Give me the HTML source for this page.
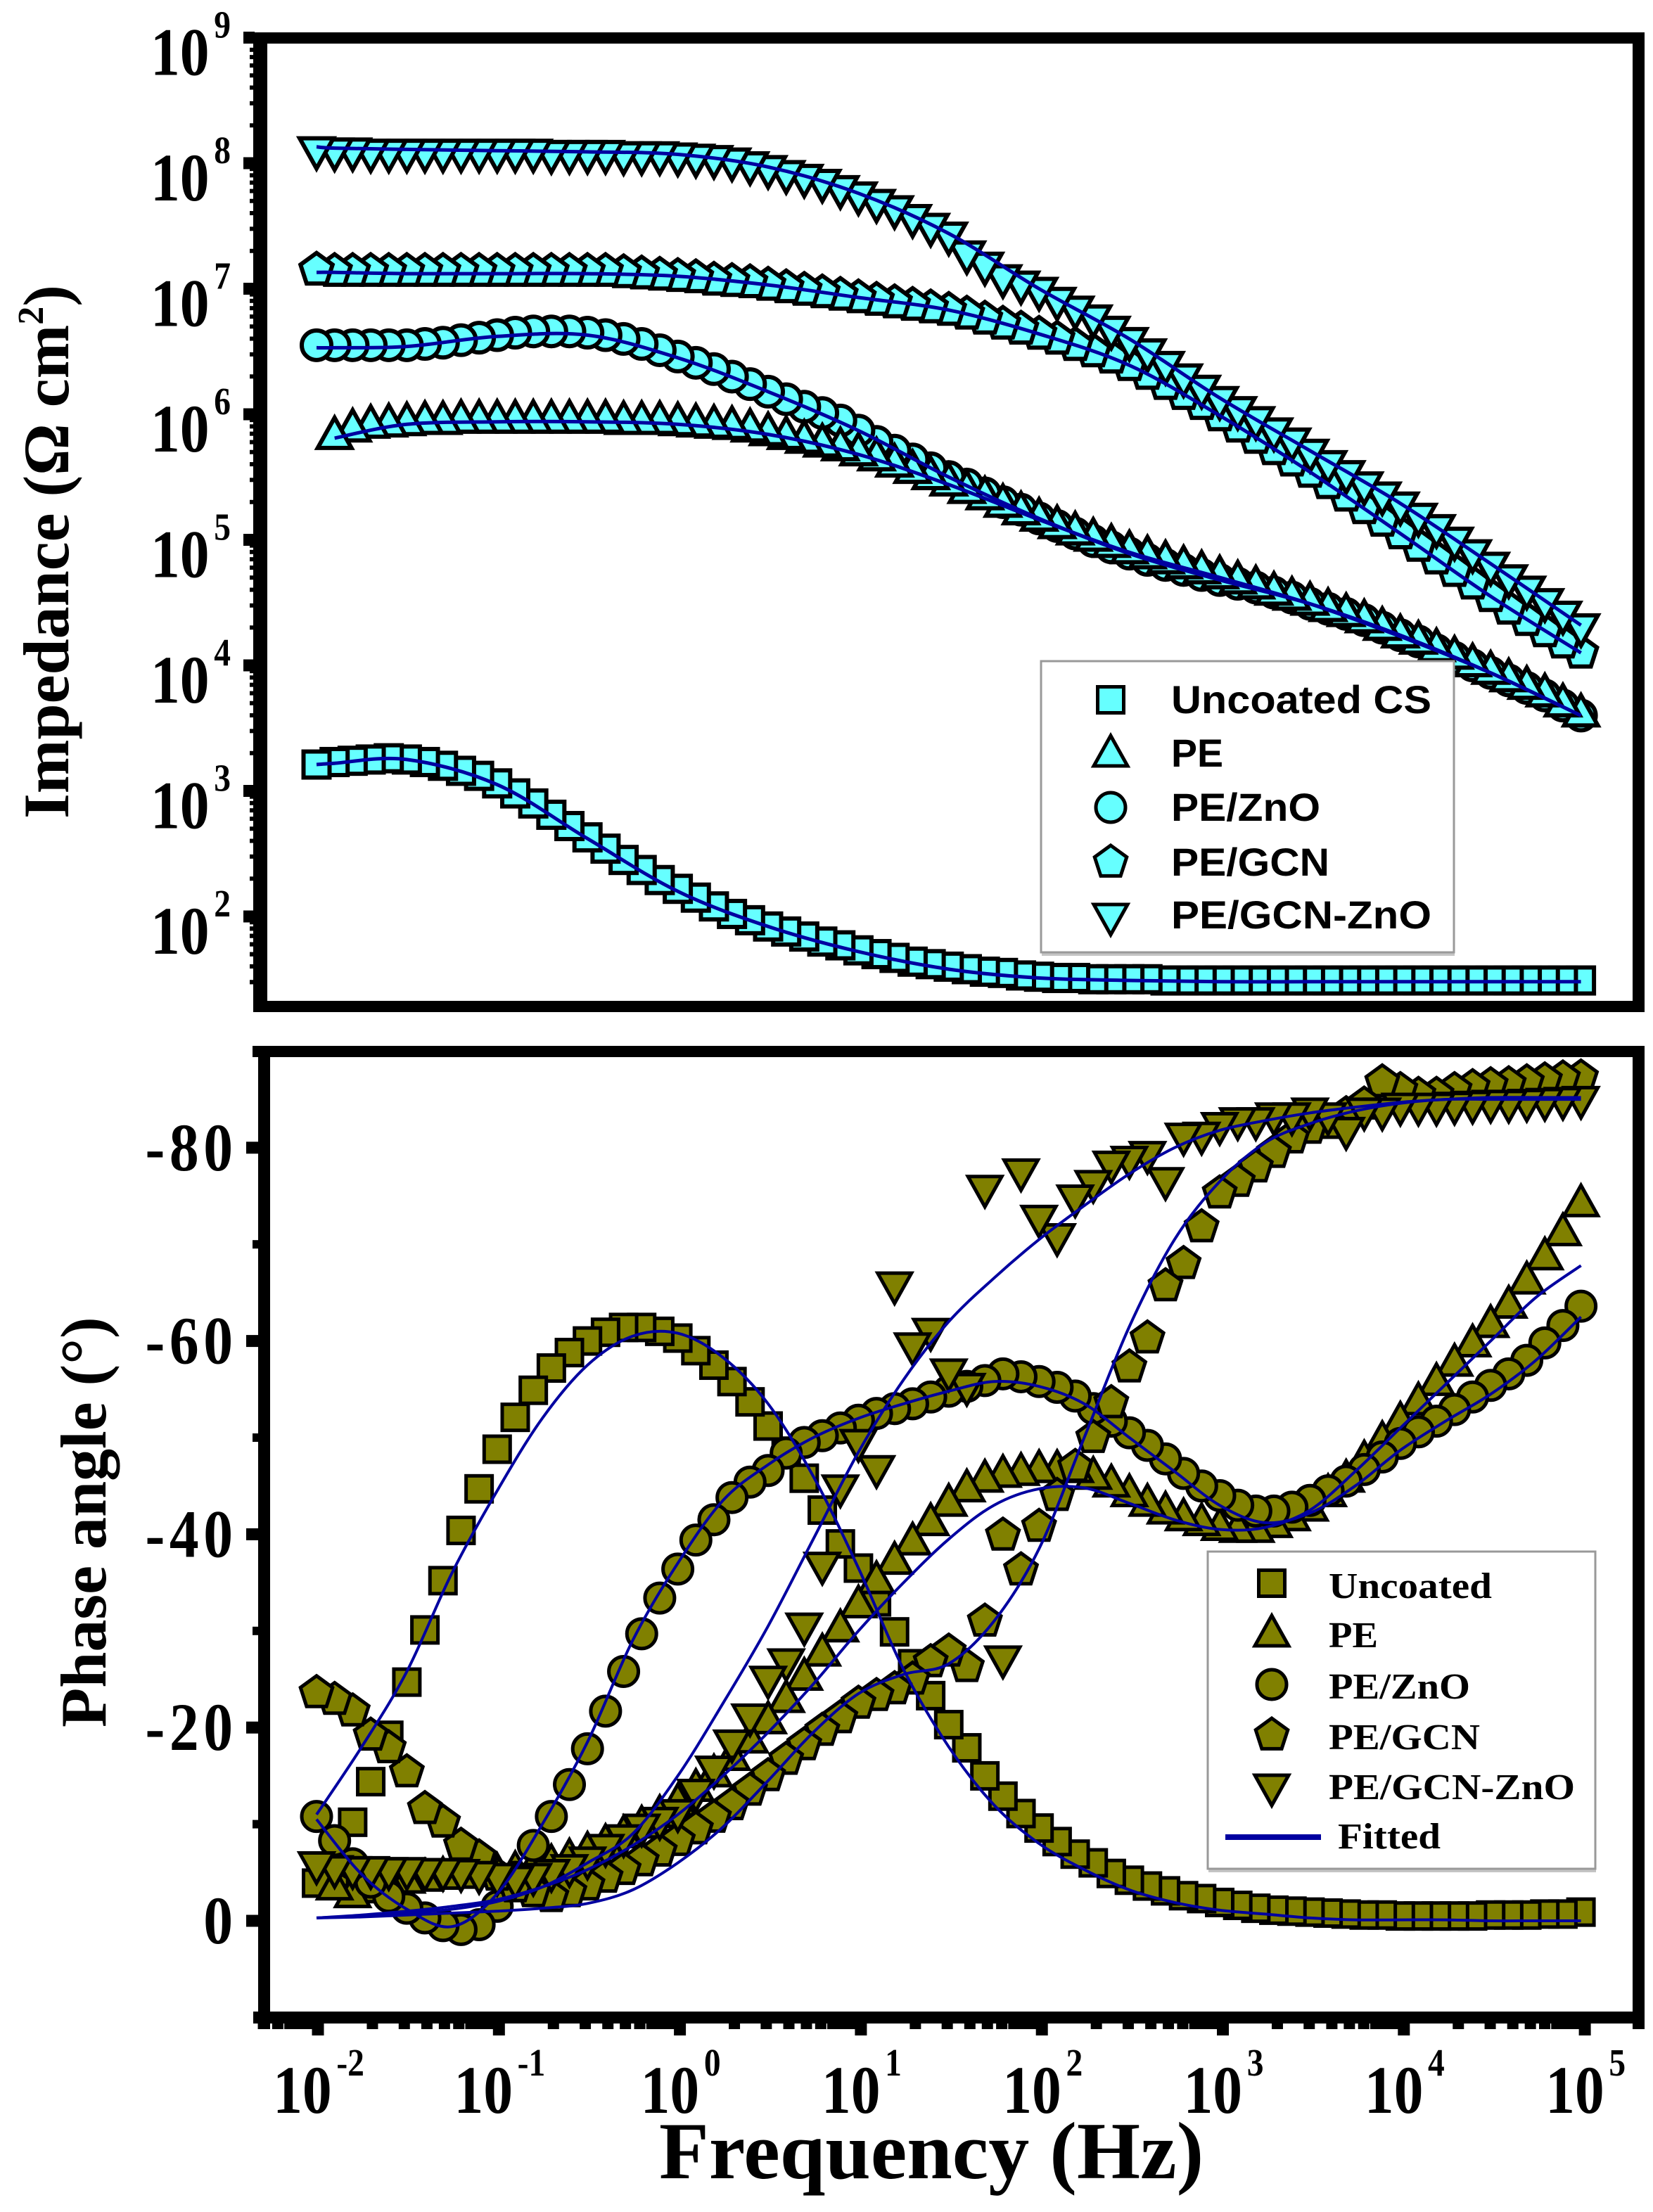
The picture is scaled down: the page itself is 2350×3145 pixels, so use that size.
<!DOCTYPE html>
<html lang="en">
<head>
<meta charset="utf-8">
<title>Bode plots: impedance and phase angle</title>
<style>
html,body{margin:0;padding:0;background:#fff;}
svg{display:block;}
text{font-family:"Liberation Serif","DejaVu Serif",serif;font-weight:bold;fill:#000;}
.sans{font-family:"Liberation Sans","DejaVu Sans",sans-serif;}
</style>
</head>
<body>
<svg id="chart" xmlns="http://www.w3.org/2000/svg" width="2350" height="3145" viewBox="0 0 2350 3145">
  <g id="top-data"></g>
  <g id="bottom-data"></g>
  <g id="axes"></g>
  <g id="legends"></g>

  <text transform="translate(97,1164) rotate(-90)" font-size="92">Impedance (Ω cm<tspan font-size="52" dy="-36">2</tspan><tspan dy="36">)</tspan></text>
  <text transform="translate(150,2456) rotate(-90)" font-size="92">Phase angle (°)</text>
  <text x="937" y="3097" font-size="116">Frequency (Hz)</text>
</svg>
<script>
const logFreq = [-2,-1.9,-1.8,-1.7,-1.6,-1.5,-1.4,-1.3,-1.2,-1.1,-1,-0.9,-0.8,-0.7,-0.6,-0.5,-0.4,-0.3,-0.2,-0.1,0,0.1,0.2,0.3,0.4,0.5,0.6,0.7,0.8,0.9,1,1.1,1.2,1.3,1.4,1.5,1.6,1.7,1.8,1.9,2,2.1,2.2,2.3,2.4,2.5,2.6,2.7,2.8,2.9,3,3.1,3.2,3.3,3.4,3.5,3.6,3.7,3.8,3.9,4,4.1,4.2,4.3,4.4,4.5,4.6,4.7,4.8,4.9,5];

const impUncoated = [3.21,3.23,3.24,3.25,3.26,3.25,3.23,3.20,3.16,3.12,3.06,2.98,2.90,2.81,2.72,2.63,2.54,2.45,2.37,2.29,2.22,2.15,2.08,2.02,1.97,1.92,1.88,1.84,1.80,1.77,1.73,1.70,1.67,1.64,1.62,1.60,1.58,1.56,1.55,1.53,1.52,1.51,1.51,1.50,1.50,1.50,1.50,1.49,1.49,1.49,1.49,1.49,1.49,1.49,1.49,1.49,1.49,1.49,1.49,1.49,1.49,1.49,1.49,1.49,1.49,1.49,1.49,1.49,1.49,1.49,1.49];
const impPe = [null,5.81,5.87,5.90,5.91,5.92,5.93,5.93,5.94,5.94,5.94,5.94,5.94,5.94,5.94,5.94,5.94,5.93,5.93,5.93,5.92,5.91,5.90,5.89,5.87,5.84,5.81,5.78,5.75,5.72,5.68,5.64,5.59,5.54,5.49,5.44,5.38,5.33,5.27,5.21,5.16,5.10,5.05,5.00,4.95,4.90,4.86,4.82,4.78,4.74,4.70,4.66,4.62,4.57,4.53,4.49,4.44,4.40,4.35,4.29,4.23,4.18,4.12,4.06,4.00,3.94,3.88,3.82,3.76,3.68,3.60];
const impZno = [6.55,6.55,6.55,6.55,6.55,6.55,6.56,6.57,6.59,6.61,6.63,6.65,6.66,6.66,6.66,6.65,6.63,6.60,6.56,6.51,6.46,6.41,6.36,6.30,6.24,6.18,6.12,6.06,6.01,5.95,5.87,5.78,5.71,5.64,5.57,5.50,5.44,5.37,5.30,5.24,5.17,5.11,5.05,4.99,4.94,4.89,4.84,4.80,4.76,4.72,4.68,4.65,4.62,4.58,4.54,4.49,4.45,4.41,4.36,4.30,4.24,4.19,4.12,4.06,4.00,3.94,3.88,3.82,3.76,3.68,3.60];
const impGcn = [7.15,7.14,7.14,7.14,7.14,7.14,7.14,7.14,7.14,7.14,7.14,7.14,7.14,7.14,7.14,7.14,7.14,7.13,7.12,7.11,7.10,7.09,7.07,7.06,7.05,7.03,7.01,6.99,6.97,6.95,6.93,6.91,6.89,6.87,6.85,6.83,6.80,6.76,6.72,6.68,6.64,6.60,6.55,6.50,6.45,6.39,6.32,6.24,6.16,6.08,5.99,5.90,5.81,5.72,5.63,5.54,5.45,5.35,5.25,5.15,5.05,4.95,4.85,4.75,4.65,4.55,4.45,4.36,4.27,4.18,4.10];
const impGcnZno = [8.12,8.11,8.11,8.10,8.10,8.10,8.10,8.10,8.10,8.10,8.10,8.10,8.10,8.09,8.09,8.09,8.09,8.08,8.08,8.08,8.07,8.06,8.05,8.03,8.00,7.97,7.93,7.90,7.86,7.81,7.76,7.70,7.65,7.58,7.51,7.44,7.29,7.20,7.10,7.05,7.00,6.92,6.85,6.78,6.69,6.60,6.51,6.41,6.31,6.22,6.13,6.05,5.97,5.88,5.80,5.71,5.62,5.54,5.45,5.37,5.29,5.20,5.11,5.01,4.91,4.81,4.71,4.62,4.52,4.42,4.32];

const fitTopLogFreq = [-2,-1.9,-1.5,-1,-0.5,0,0.5,1,1.5,2,2.5,3,3.5,4,4.5,5];
const fitImpUncoated = [3.21,3.22,3.25,3.05,2.62,2.20,1.92,1.72,1.58,1.51,1.49,1.48,1.48,1.48,1.48,1.48];
const fitImpPe = [null,5.81,5.92,5.94,5.94,5.92,5.84,5.68,5.44,5.16,4.90,4.70,4.49,4.23,3.94,3.60];
const fitImpZno = [6.53,6.53,6.54,6.62,6.63,6.45,6.18,5.87,5.50,5.17,4.89,4.68,4.49,4.24,3.94,3.60];
const fitImpGcn = [7.13,7.13,7.12,7.12,7.12,7.10,7.03,6.93,6.83,6.64,6.39,5.99,5.54,5.05,4.55,4.10];
const fitImpGcnZno = [8.13,8.12,8.11,8.10,8.09,8.07,7.97,7.76,7.44,7.00,6.60,6.13,5.71,5.29,4.81,4.32];

const phaseUncoated = [-3.9,-5,-10.2,-14.4,-19.2,-24.7,-30.1,-35.2,-40.4,-44.7,-48.8,-52.1,-54.9,-57.2,-58.8,-60,-60.9,-61.4,-61.4,-61,-60.3,-59,-57.5,-55.8,-53.7,-51.2,-48.6,-45.8,-42.5,-39,-36.5,-33,-29.9,-26.6,-23.3,-20.3,-17.9,-15,-12.9,-11.1,-9.6,-8.2,-6.9,-6,-4.9,-4.2,-3.6,-3.1,-2.6,-2.3,-1.9,-1.6,-1.3,-1.1,-1,-0.9,-0.8,-0.7,-0.6,-0.6,-0.5,-0.5,-0.5,-0.5,-0.5,-0.6,-0.6,-0.6,-0.7,-0.7,-0.9];
const phasePe = [null,-3.3,-2.5,-3,-3.5,-4,-4.2,-4.4,-4.5,-4.7,-4.8,-5,-5.3,-5.7,-6.3,-7,-7.8,-8.7,-9.7,-10.8,-12,-13.5,-15,-16.7,-18.5,-20.5,-22.7,-25,-27.5,-30,-32.5,-35,-37,-39,-41,-43,-44.5,-45.5,-46,-46.2,-46.5,-46.5,-46.5,-45.8,-45,-44,-43,-42.2,-41.5,-41,-40.5,-40.3,-40.3,-40.8,-41.5,-42.5,-44,-45.5,-47.5,-49.5,-51.5,-53.5,-55.5,-57.5,-59.5,-61.5,-63.5,-66,-68.5,-71,-74];
const phaseZno = [-10.8,-8.3,-5.9,-4,-2.5,-1.3,-0.3,0.5,0.9,0.4,-1.5,-4.5,-7.8,-10.8,-14.1,-17.8,-21.7,-25.8,-29.7,-33.4,-36.4,-39.4,-41.5,-43.8,-45.4,-46.6,-48.4,-49.5,-50.2,-51,-51.8,-52.5,-53,-53.5,-54.2,-54.8,-55.3,-55.9,-56.6,-56.3,-55.8,-55.2,-54.3,-53,-51.7,-50.5,-49.2,-47.8,-46.3,-45,-44,-43,-42.4,-42.4,-42.8,-43.5,-44.5,-45.5,-46.7,-48,-49.4,-50.6,-51.7,-52.9,-54.2,-55.4,-56.6,-58,-59.8,-61.6,-63.6];
const phaseGcn = [-23.6,-22.9,-21.7,-19.2,-17.9,-15.4,-11.6,-10.2,-7.8,-6.6,-4.7,-3.5,-3,-2.5,-3,-3.7,-4.5,-5.3,-6.2,-7.2,-8.3,-9.5,-10.7,-12,-13.5,-15,-16.7,-18.2,-19.7,-21,-22.5,-23.3,-24,-25,-26.8,-27.9,-26.3,-31,-39.9,-36.3,-40.8,-44,-47,-50,-53.6,-57.3,-60.3,-65.7,-68,-71.8,-75.3,-76.5,-78,-79.5,-81,-82,-82.5,-83.5,-84.5,-86.8,-86,-85.5,-85.5,-86,-86.3,-86.5,-86.6,-86.8,-87,-87.2,-87.3];
const phaseGcnZno = [-6,-5.6,-5.5,-5.5,-5.4,-5.4,-5.3,-5.3,-5.2,-5,-4.8,-4.5,-4.8,-5.2,-5.7,-6.5,-7.8,-8.8,-9.9,-10.6,-11.4,-13.5,-15.9,-18.6,-21.3,-25.2,-27,-30.7,-37,-45,-49.7,-47,-66,-59.7,-61.2,-57,-55.5,-76,-27.3,-77.7,-72.9,-71,-75,-76.5,-78.5,-79,-79.5,-76.8,-81.4,-81.5,-82.5,-83,-83,-83.5,-83.5,-84,-83.5,-82,-84,-84,-84.5,-84.5,-84.5,-84.6,-84.7,-84.8,-84.8,-84.9,-85,-85.1,-85.2];

const fitBottomLogFreq = [-2,-1.75,-1.5,-1.25,-1,-0.75,-0.5,-0.25,0,0.25,0.5,0.75,1,1.25,1.5,1.75,2,2.25,2.5,2.75,3,3.25,3.5,3.75,4,4.25,4.5,4.75,5];
const fitPhaseUncoated = [-11,-18,-25.8,-36,-44.5,-52,-57.5,-60.5,-60.8,-58.3,-53.5,-46,-36.5,-26,-18,-12,-8,-5.3,-3.2,-1.9,-1.1,-0.7,-0.3,-0.1,-0.1,-0.1,0,0,0];
const fitPhasePe = [-0.3,-0.6,-1,-1.5,-2.2,-3.5,-5.3,-7.8,-11,-15,-19.5,-24.5,-30,-35,-39.5,-43,-44.7,-44.8,-43.2,-41.5,-40.5,-40.7,-42.5,-46.5,-51,-55.5,-60,-64.5,-67.8];
const fitPhaseZno = [-10.5,-4.8,-1.2,0.6,-2.8,-10,-18.5,-29,-37,-43.5,-47.2,-50,-52,-53.5,-54.8,-55.8,-55.3,-53.5,-50,-46.5,-43,-41.2,-42.2,-45,-48.7,-51.7,-54.5,-58,-62.5];
const fitPhaseGcn = [-0.3,-0.4,-0.6,-0.8,-1,-1.3,-1.8,-3.2,-6,-9.7,-14.5,-19.5,-23.5,-25.5,-26.6,-31,-38.5,-50,-61.5,-70.5,-76.5,-80.5,-82.5,-83.8,-84.6,-85,-85,-85,-85];
const fitPhaseGcnZno = [-0.3,-0.5,-0.8,-1.2,-2,-3.5,-6,-9,-15,-22.5,-30.5,-39.5,-48.5,-56,-62,-66.5,-70.5,-74,-77.3,-80,-81.8,-82.8,-83.6,-84.2,-84.7,-85,-85.2,-85.2,-85.2];

const seriesNames = ['uncoated','pe','pe-zno','pe-gcn','pe-gcn-zno'];
const seriesShapes = ['square','up','circle','pentagon','down'];
const topSeries = [impUncoated,impPe,impZno,impGcn,impGcnZno];
const bottomSeries = [phaseUncoated,phasePe,phaseZno,phaseGcn,phaseGcnZno];
const topFits = [fitImpUncoated,fitImpPe,fitImpZno,fitImpGcn,fitImpGcnZno];
const bottomFits = [fitPhaseUncoated,fitPhasePe,fitPhaseZno,fitPhaseGcn,fitPhaseGcnZno];
const topDrawOrder = [0,2,1,3,4];
const bottomDrawOrder = [0,1,2,3,4];

const xDecades = [-2,-1,0,1,2,3,4,5];
const yExponents = [9,8,7,6,5,4,3,2];
const phaseMajorTicks = [-80,-60,-40,-20,0];
const phaseMinorTicks = [-70,-50,-30,-10];
const minorMultiples = [2,3,4,5,6,7,8,9];
const legendTopLabels = ['Uncoated CS','PE','PE/ZnO','PE/GCN','PE/GCN-ZnO'];
const legendBottomLabels = ['Uncoated','PE','PE/ZnO','PE/GCN','PE/GCN-ZnO'];

const NS = 'http://www.w3.org/2000/svg';
const CYAN = '#66ffff', OLIVE = '#808000', BLUE = '#0000a0';

function xAxis(lf){ return 452 + (lf + 2) * 257.3; }
function xData(lf){ return xAxis(lf) - 2 - (lf + 2) * 0.5; }
function yTop(lz){ return 232 + (8 - lz) * 178.5; }
function yBottom(p){ return 2731 + p * 13.74; }

function make(tag, attrs){
  const el = document.createElementNS(NS, tag);
  for (const k in attrs) el.setAttribute(k, attrs[k]);
  return el;
}

function marker(shape, x, y, fill, sw){
  let el;
  if (shape === 'square') {
    el = make('rect', {x: x - 18.5, y: y - 18.5, width: 37, height: 37});
  } else if (shape === 'circle') {
    el = make('circle', {cx: x, cy: y, r: 21});
  } else if (shape === 'up') {
    el = make('polygon', {points: (x) + ',' + (y - 29) + ' ' + (x + 24) + ',' + (y + 14) + ' ' + (x - 24) + ',' + (y + 14)});
  } else if (shape === 'down') {
    el = make('polygon', {points: (x) + ',' + (y + 29) + ' ' + (x + 24) + ',' + (y - 14) + ' ' + (x - 24) + ',' + (y - 14)});
  } else {
    const pts = [];
    for (let i = 0; i < 5; i++) {
      const a = -Math.PI / 2 + i * 2 * Math.PI / 5;
      pts.push((x + 24 * Math.cos(a)).toFixed(1) + ',' + (y + 24 * Math.sin(a)).toFixed(1));
    }
    el = make('polygon', {points: pts.join(' ')});
  }
  el.setAttribute('fill', fill);
  el.setAttribute('stroke', '#000');
  el.setAttribute('stroke-width', sw);
  el.setAttribute('stroke-linejoin', 'miter');
  return el;
}

function smoothPath(pts){
  let d = 'M' + pts[0][0].toFixed(1) + ' ' + pts[0][1].toFixed(1);
  for (let i = 0; i < pts.length - 1; i++) {
    const p0 = pts[Math.max(0, i - 1)], p1 = pts[i], p2 = pts[i + 1], p3 = pts[Math.min(pts.length - 1, i + 2)];
    const c1x = p1[0] + (p2[0] - p0[0]) / 6, c1y = p1[1] + (p2[1] - p0[1]) / 6;
    const c2x = p2[0] - (p3[0] - p1[0]) / 6, c2y = p2[1] - (p3[1] - p1[1]) / 6;
    d += 'C' + c1x.toFixed(1) + ' ' + c1y.toFixed(1) + ' ' + c2x.toFixed(1) + ' ' + c2y.toFixed(1) + ' ' + p2[0].toFixed(1) + ' ' + p2[1].toFixed(1);
  }
  return d;
}

function drawSeries(group, panel, seriesList, order, fits, fitX, yFn, fill, markerStroke, lineWidth){
  order.forEach(function(s){
    const values = seriesList[s];
    const g = make('g', {});
    
    
    for (let i = values.length - 1; i >= 0; i--) {
      if (values[i] === null) continue;
      const m = marker(seriesShapes[s], xData(logFreq[i]), yFn(values[i]), fill, markerStroke);
      
      
      g.appendChild(m);
    }
    group.appendChild(g);
  });
  fits.forEach(function(values, s){
    const pts = [];
    values.forEach(function(v, i){
      if (v !== null) pts.push([xData(fitX[i]), yFn(v)]);
    });
    const line = make('path', {d: smoothPath(pts), fill: 'none', stroke: BLUE, 'stroke-width': lineWidth});
    
    
    group.appendChild(line);
  });
}

drawSeries(document.getElementById('top-data'), 'impedance', topSeries, topDrawOrder, topFits, fitTopLogFreq, yTop, CYAN, 6, 5);
drawSeries(document.getElementById('bottom-data'), 'phase', bottomSeries, bottomDrawOrder, bottomFits, fitBottomLogFreq, yBottom, OLIVE, 5, 4);

const axes = document.getElementById('axes');

function bar(x, y, w, h, name){
  const r = make('rect', {x: x, y: y, width: w, height: h, fill: '#000'});
  
  
  axes.appendChild(r);
}

function powerLabel(x, y, exp, anchor, name){
  const t = make('text', {transform: 'translate(' + x + ',' + y + ') scale(0.95,1.1)', 'font-size': 88, 'text-anchor': anchor});
  
  
  t.appendChild(document.createTextNode('10'));
  const sup = make('tspan', {'font-size': 50, dy: -48, dx: 7});
  sup.textContent = String(exp);
  t.appendChild(sup);
  axes.appendChild(t);
}

// Impedance panel frame
bar(346, 46, 1992, 16, 'impedance-top-spine');
bar(360, 46, 20, 1393, 'impedance-left-spine');
bar(2321, 46, 17, 1393, 'impedance-right-spine');
bar(360, 1423, 1978, 16, 'impedance-bottom-spine');

yExponents.forEach(function(e){
  bar(346, yTop(e) - 8.5, 16, 17, 'impedance-major-tick');
  powerLabel(214, yTop(e) + 53, e, 'start', 'impedance-tick-label');
  minorMultiples.forEach(function(m){
    const my = yTop(e - 1 + Math.log10(m));
    if (my < 1423 && my > 62) bar(355, my - 3, 6, 6, 'impedance-minor-tick');
  });
});
[1].forEach(function(e){
  minorMultiples.forEach(function(m){
    const my = yTop(e + Math.log10(m));
    if (my < 1423) bar(355, my - 3, 6, 6, 'impedance-minor-tick');
  });
});

// Phase panel frame
bar(359, 1487, 1979, 16, 'phase-top-spine');
bar(367, 1487, 17, 1398, 'phase-left-spine');
bar(2321, 1487, 17, 1398, 'phase-right-spine');
bar(360, 2860, 1978, 17, 'phase-bottom-spine');

phaseMajorTicks.forEach(function(p){
  bar(350, yBottom(p) - 8.5, 18, 17, 'phase-major-tick');
  const t = make('text', {transform: 'translate(331,' + (yBottom(p) + 32) + ') scale(0.95,1.1)', 'font-size': 88, 'text-anchor': 'end'});
  if (p !== 0) {
    t.setAttribute('textLength', 131);
    t.setAttribute('lengthAdjust', 'spacing');
  }
  
  
  t.textContent = String(p);
  axes.appendChild(t);
});
phaseMinorTicks.forEach(function(p){
  bar(359, yBottom(p) - 6, 9, 12, 'phase-minor-tick');
});

xDecades.forEach(function(d){
  bar(xAxis(d) - 8.5, 2876, 17, 18, 'frequency-major-tick');
  powerLabel(xAxis(d) + 1, 3004, d, 'middle', 'frequency-tick-label');
});
[-3].concat(xDecades).forEach(function(d){
  minorMultiples.forEach(function(m){
    const mx = xAxis(d + Math.log10(m));
    if (mx > 372 && mx < 2330) bar(mx - 8, 2876, 16, 9, 'frequency-minor-tick');
  });
});

// Legends
const legends = document.getElementById('legends');

function legendBox(x, y, w, h, name){
  const shadow = make('rect', {x: x + 1, y: y + h, width: w, height: 5, fill: '#c4c4c4'});
  
  
  legends.appendChild(shadow);
  const r = make('rect', {x: x, y: y, width: w, height: h, fill: '#fff', stroke: '#999', 'stroke-width': 3});
  
  
  legends.appendChild(r);
}

function legendEntry(shape, mx, my, fill, label, tx, ty, cls, size, width){
  const m = marker(shape, mx, my, fill, 5);
  
  
  legends.appendChild(m);
  const t = make('text', {x: tx, y: ty, 'font-size': size, textLength: width, lengthAdjust: 'spacingAndGlyphs'});
  if (cls) t.setAttribute('class', cls);
  
  
  t.textContent = label;
  legends.appendChild(t);
}

legendBox(1480, 940, 587, 414, 'impedance-legend');
legendEntry(seriesShapes[0], 1579, 995, CYAN, legendTopLabels[0], 1665, 1014, 'sans', 56, 370);
legendEntry(seriesShapes[1], 1579, 1075, CYAN, legendTopLabels[1], 1665, 1090, 'sans', 56, 74);
legendEntry(seriesShapes[2], 1579, 1148, CYAN, legendTopLabels[2], 1665, 1167, 'sans', 56, 212);
legendEntry(seriesShapes[3], 1579, 1226, CYAN, legendTopLabels[3], 1665, 1245, 'sans', 56, 225);
legendEntry(seriesShapes[4], 1579, 1300, CYAN, legendTopLabels[4], 1665, 1320, 'sans', 56, 370);

legendBox(1717, 2206, 551, 451, 'phase-legend');
legendEntry(seriesShapes[0], 1808, 2251, OLIVE, legendBottomLabels[0], 1889, 2272, '', 52, 232);
legendEntry(seriesShapes[1], 1808, 2326, OLIVE, legendBottomLabels[1], 1889, 2342, '', 52, 70);
legendEntry(seriesShapes[2], 1808, 2395, OLIVE, legendBottomLabels[2], 1889, 2415, '', 52, 201);
legendEntry(seriesShapes[3], 1808, 2467, OLIVE, legendBottomLabels[3], 1889, 2487, '', 52, 215);
legendEntry(seriesShapes[4], 1808, 2538, OLIVE, legendBottomLabels[4], 1889, 2558, '', 52, 350);

const fitSample = make('rect', {x: 1742, y: 2608, width: 136, height: 8, fill: BLUE});


legends.appendChild(fitSample);
const fitLabel = make('text', {x: 1902, y: 2628, 'font-size': 52, textLength: 146, lengthAdjust: 'spacingAndGlyphs'});


fitLabel.textContent = 'Fitted';
legends.appendChild(fitLabel);
</script>
</body>
</html>
